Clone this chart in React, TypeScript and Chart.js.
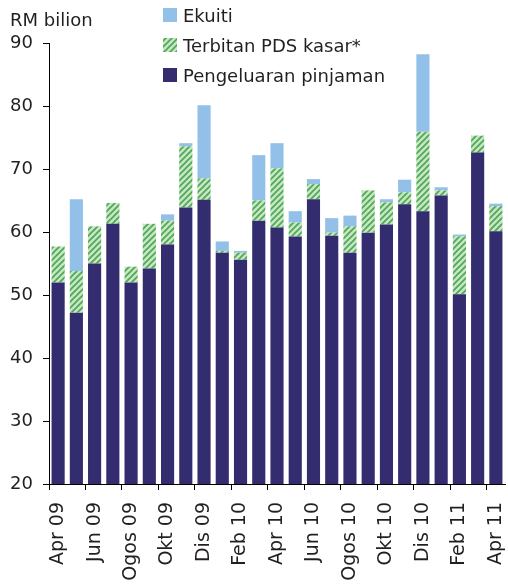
import React, { useEffect, useRef } from "react";
import { Chart, registerables } from "chart.js";

Chart.register(...registerables);

const categories = ["Apr 09","Mei 09","Jun 09","Jul 09","Ogos 09","Sep 09","Okt 09","Nov 09","Dis 09","Jan 10","Feb 10","Mac 10","Apr 10","Mei 10","Jun 10","Jul 10","Ogos 10","Sep 10","Okt 10","Nov 10","Dis 10","Jan 11","Feb 11","Mac 11","Apr 11"];
const loans = [52.0,47.2,55.0,61.3,52.0,54.2,58.0,63.9,65.1,56.7,55.6,61.8,60.7,59.3,65.2,59.4,56.7,59.9,61.2,64.4,63.3,65.8,50.1,72.6,60.1];
const pds = [5.7,6.6,5.9,3.3,2.5,7.1,3.8,9.7,3.4,0.3,1.1,3.2,9.4,2.2,2.4,0.5,4.2,6.7,3.5,1.9,12.6,0.8,9.2,2.7,4.0];
const equity = [0,11.4,0,0,0,0,1.0,0.5,11.6,1.5,0.3,7.2,4.0,1.8,0.8,2.3,1.7,0,0.5,2.0,12.3,0.5,0.3,0,0.4];
const seriesNames = ["Pengeluaran pinjaman", "Terbitan PDS kasar*", "Ekuiti"];
const yTicks = [20, 30, 40, 50, 60, 70, 80, 90];
const yTitle = "RM bilion";

const NAVY = "#332c6e";
const BLUE = "#92c0e8";
const FONT = "'DejaVu Sans', sans-serif";
const TEXT = "#231f20";

function makeHatch(): CanvasPattern | string {
  const c = document.createElement("canvas");
  const s = 6;
  c.width = s; c.height = s;
  const g = c.getContext("2d");
  if (!g) return "#c6e6c0";
  g.fillStyle = "#c6e6bf";
  g.fillRect(0, 0, s, s);
  g.strokeStyle = "#4c a65a".replace(" ", "");
  g.lineWidth = 1.6;
  g.beginPath();
  g.moveTo(-1, s + 1); g.lineTo(s + 1, -1);
  g.moveTo(-1, 1); g.lineTo(1, -1);
  g.moveTo(s - 1, s + 1); g.lineTo(s + 1, s - 1);
  g.stroke();
  const p = g.createPattern(c, "repeat");
  return p || "#c6e6c0";
}

export default function App() {
  const ref = useRef<HTMLCanvasElement | null>(null);
  useEffect(() => {
    if (!ref.current) return;
    const hatch = makeHatch();
    const colors = [NAVY, hatch, BLUE];

    const overlay = {
      id: "overlay",
      afterDraw(chart: any) {
        const ctx = chart.ctx;
        ctx.save();
        ctx.fillStyle = TEXT;
        ctx.font = `18px ${FONT}`;
        ctx.textBaseline = "alphabetic";
        ctx.textAlign = "left";
        ctx.fillText(yTitle, 10, 26);
        const order = [2, 1, 0];
        order.forEach((di, row) => {
          const y = 8 + row * 30;
          ctx.fillStyle = colors[di];
          ctx.fillRect(163, y, 14, 14);
          ctx.fillStyle = TEXT;
          ctx.fillText(seriesNames[di], 183, y + 14);
        });
        ctx.restore();
      },
    };

    const chart = new Chart(ref.current, {
      type: "bar",
      data: {
        labels: categories,
        datasets: [
          { label: seriesNames[0], data: loans, backgroundColor: NAVY, barPercentage: 0.72, categoryPercentage: 1 },
          { label: seriesNames[1], data: pds, backgroundColor: hatch as any, barPercentage: 0.72, categoryPercentage: 1 },
          { label: seriesNames[2], data: equity, backgroundColor: BLUE, barPercentage: 0.72, categoryPercentage: 1 },
        ],
      },
      options: {
        animation: false,
        responsive: false,
        maintainAspectRatio: false,
        layout: { padding: { left: 0, top: 43, right: 3, bottom: 0 } },
        plugins: { legend: { display: false }, tooltip: { enabled: false } },
        scales: {
          x: {
            stacked: true,
            offset: true,
            grid: {
              offset: true,
              drawOnChartArea: false,
              drawTicks: true,
              tickLength: 6,
              color: (ctx: any) => (ctx.index % 2 === 0 ? "#000" : "rgba(0,0,0,0)"),
            },
            border: { display: true, color: "#000", width: 1 },
            ticks: {
              autoSkip: false,
              minRotation: 90,
              maxRotation: 90,
              padding: 12,
              color: TEXT,
              font: { family: FONT, size: 19 },
              callback: (_v: any, i: number) => (i % 2 === 0 ? categories[i] : ""),
            },
            afterFit: (s: any) => { s.height = 101; s.paddingLeft = 0; s.paddingRight = 0; },
          },
          y: {
            stacked: true,
            min: yTicks[0],
            max: yTicks[yTicks.length - 1],
            afterBuildTicks: (s: any) => { s.ticks = yTicks.map((v) => ({ value: v })); },
            grid: { drawOnChartArea: false, drawTicks: true, tickLength: 6, color: "#000" },
            border: { display: true, color: "#000", width: 1 },
            ticks: { padding: 10, color: TEXT, font: { family: FONT, size: 18 } },
            afterFit: (s: any) => { s.width = 49; },
          },
        },
      },
      plugins: [overlay],
    });
    return () => chart.destroy();
  }, []);

  return (
    <div style={{ position: "absolute", left: 0, top: 0, width: 508, height: 585, background: "#fff" }}>
      <canvas ref={ref} width={508} height={585} style={{ width: 508, height: 585, display: "block" }} />
    </div>
  );
}
